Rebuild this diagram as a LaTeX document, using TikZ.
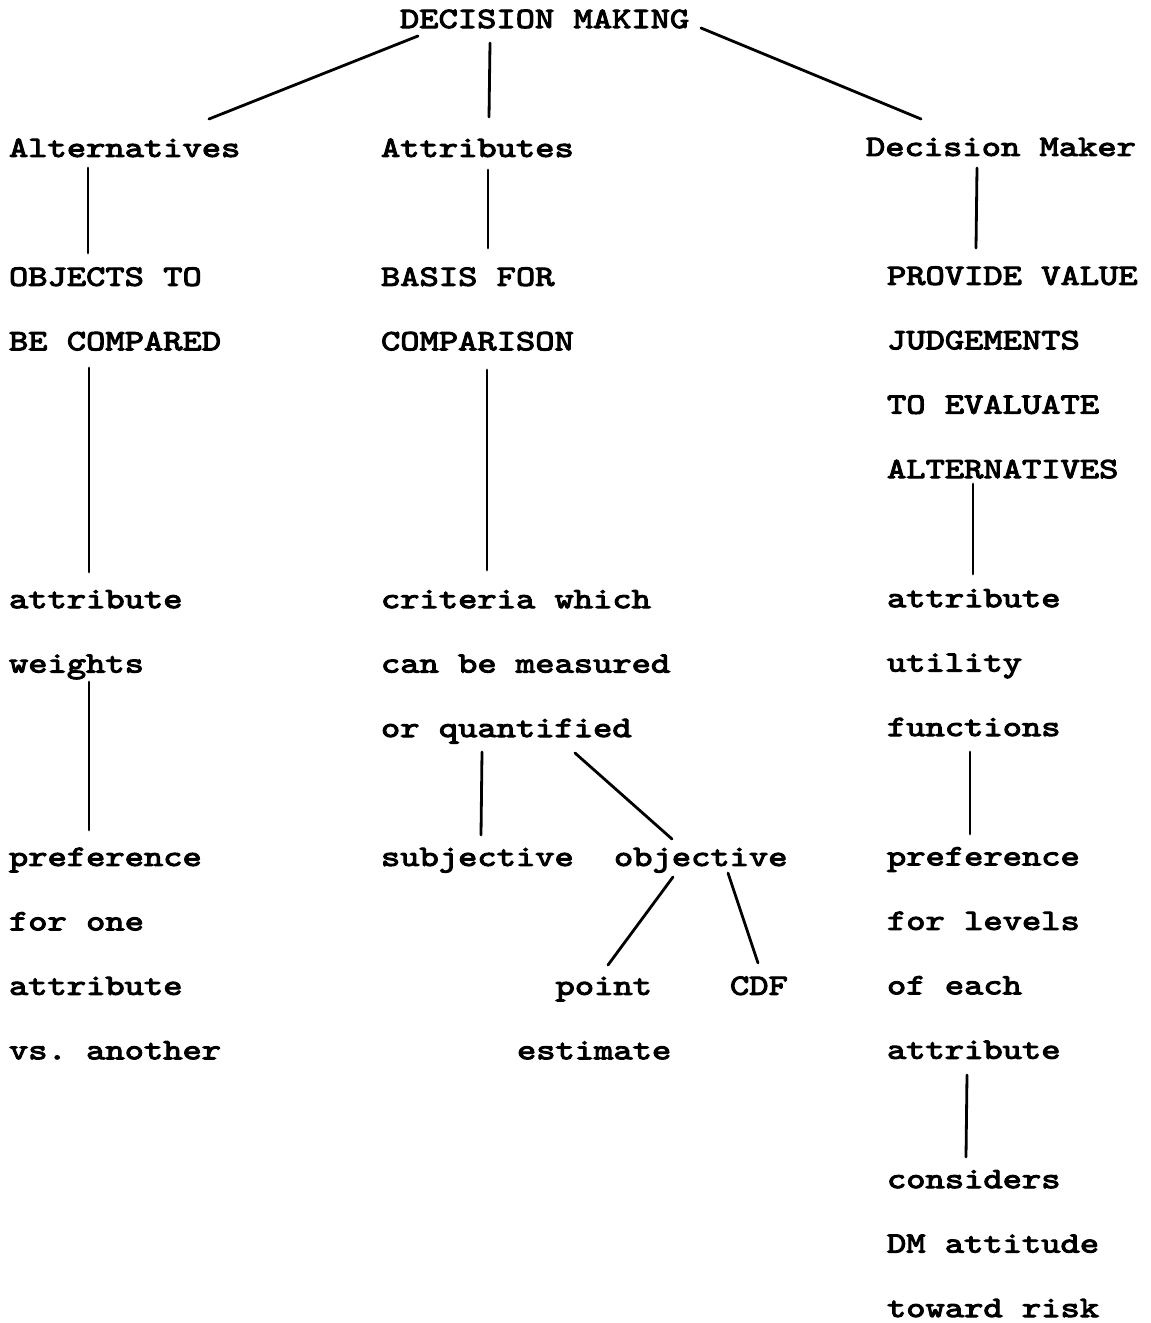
\documentclass[tikz,border=0pt]{standalone}
\usepackage{fontspec}
\usetikzlibrary{calc}
\newfontfamily\tw[FakeStretch=1.245,FakeBold=3.5]{lmmono10-regular.otf}
\newcommand{\fst}{\rule{0pt}{24pt}}
\frenchspacing
\tikzset{
  lbl/.style={anchor=north west, inner sep=0pt, outer sep=0pt, align=left,
    font={\fontsize{29.5}{64.45}\tw\frenchspacing}},
  conn/.style={line width=2.8pt, line cap=round}
}
\begin{document}
\begin{tikzpicture}[x=1pt,y=-1pt]
\useasboundingbox[fill=white] (0,0) rectangle (1151,1323);
% top
\node[lbl] (top) at (400,4) {\fst DECISION MAKING};
% left column
\node[lbl] (alt) at (9,132.9) {\fst Alternatives};
\node[lbl] (obj) at (9,261.8) {\fst OBJECTS TO\\BE COMPARED};
\node[lbl] (aw) at (9,584.1) {\fst attribute\\weights};
\node[lbl] (pref) at (9,841.9) {\fst preference\\for one\\attribute\\vs. another};
% middle column
\node[lbl] (att) at (381,132.9) {\fst Attributes};
\node[lbl] (basis) at (381,261.8) {\fst BASIS FOR\\COMPARISON};
\node[lbl] (crit) at (381,584.1) {\fst criteria which\\can be measured\\or quantified};
\node[lbl] (subj) at (381,841.9) {\fst subjective};
\node[lbl] (objv) at (614,841.9) {\fst objective};
\node[lbl] (pe) at (517,970.8) {\fst\phantom{xx}point\\estimate};
\node[lbl] (cdf) at (730,970.8) {\fst CDF};
% right column
\node[lbl] (dm) at (866,131.9) {\fst Decision Maker};
\node[lbl] (prov) at (887,260.8) {\fst PROVIDE VALUE\\JUDGEMENTS\\TO EVALUATE\\ALTERNATIVES};
\node[lbl] (util) at (887,583.1) {\fst attribute\\utility\\functions};
\node[lbl] (lev) at (887,841.4) {\fst preference\\for levels\\of each\\attribute};
\node[lbl] (risk) at (887,1164.1) {\fst considers\\DM attitude\\toward risk};
% connectors
\draw[conn] ($(top.north west)+(18,32)$) -- ($(alt.north west)+(200,-13.9)$);
\draw[conn] ($(top.north west)+(90,39)$) -- ($(att.north west)+(108,-15.9)$);
\draw[conn] ($(top.north west)+(301,24)$) -- ($(dm.north west)+(55,-12.9)$);
\draw[conn] ($(alt.north west)+(79,35.1)$) -- ($(obj.north west)+(79,-8.8)$);
\draw[conn] ($(att.north west)+(107,37.1)$) -- ($(basis.north west)+(107,-13.8)$);
\draw[conn] ($(dm.north west)+(111,36.1)$) -- ($(prov.north west)+(89,-12.8)$);
\draw[conn] ($(obj.north west)+(80,106.2)$) -- ($(aw.north west)+(80,-12.1)$);
\draw[conn] ($(basis.north west)+(106,108.2)$) -- ($(crit.north west)+(106,-14.1)$);
\draw[conn] ($(prov.north west)+(86,223.2)$) -- ($(util.north west)+(86,-9.1)$);
\draw[conn] ($(aw.north west)+(80,97.9)$) -- ($(pref.north west)+(80,-11.9)$);
\draw[conn] ($(crit.north west)+(101,167.9)$) -- ($(subj.north west)+(100,-6.9)$);
\draw[conn] ($(crit.north west)+(194,168.9)$) -- ($(objv.north west)+(58,-2.9)$);
\draw[conn] ($(util.north west)+(83,168.9)$) -- ($(lev.north west)+(83,-7.4)$);
\draw[conn] ($(objv.north west)+(59,35.1)$) -- ($(pe.north west)+(91,-5.8)$);
\draw[conn] ($(objv.north west)+(114,31.1)$) -- ($(cdf.north west)+(28,-7.8)$);
\draw[conn] ($(lev.north west)+(80,233.6)$) -- ($(risk.north west)+(79,-7.1)$);
\end{tikzpicture}
\end{document}
